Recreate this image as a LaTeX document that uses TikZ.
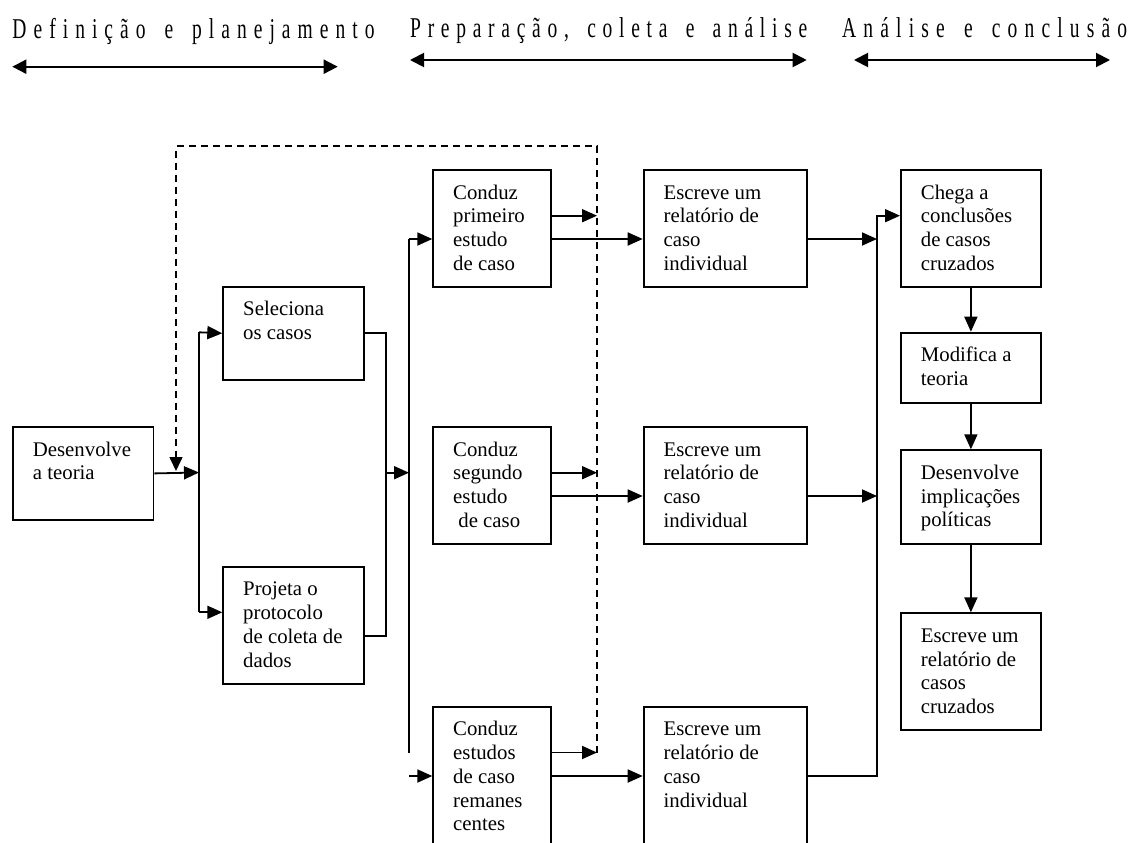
\documentclass[tikz,border=0pt]{standalone}
\usepackage{fontspec}
\setmainfont{Liberation Serif}
\newfontfamily\hdfont[FakeStretch=0.68]{Liberation Serif}
\usetikzlibrary{arrows.meta}
\newcommand\bxt[3]{\begin{minipage}[c][#2][t]{#1}\fontsize{20.8}{23.7}\selectfont\leftskip=20pt\relax\rule{0pt}{29.3pt}#3\end{minipage}}
\newcommand\hdtxt[2]{\hdfont\fontsize{28.7}{30}\selectfont\hbox to #1{#2}}
\begin{document}
\begin{tikzpicture}[x=1pt,y=-1pt,
  bx/.style={draw,line width=1.8pt,inner sep=0pt,anchor=north west},
  ln/.style={line width=1.8pt,line join=miter},
  arr/.style={ln,-{Triangle[length=15pt,width=13pt]}},
  dsh/.style={line width=1.6pt,dash pattern=on 7pt off 5pt,-{Triangle[length=14pt,width=13pt]}},
  harr/.style={line width=2pt,{Triangle[length=14pt,width=14pt]}-{Triangle[length=14pt,width=14pt]}},
  hdr/.style={anchor=base west,inner sep=0pt}]
\useasboundingbox (0,0) rectangle (1138,843);
\clip (0,0) rectangle (1138,843);
% headers
\node[hdr] (h1) at (12.3,39) {\hdtxt{362pt}{D\hfill e\hfill f\hfill i\hfill n\hfill i\hfill ç\hfill ã\hfill o\hfill\ \hfill e\hfill\ \hfill p\hfill l\hfill a\hfill n\hfill e\hfill j\hfill a\hfill m\hfill e\hfill n\hfill t\hfill o}};
\node[hdr] (h2) at (410,38) {\hdtxt{397pt}{P\hfill r\hfill e\hfill p\hfill a\hfill r\hfill a\hfill ç\hfill ã\hfill o\hfill ,\hfill\ \hfill c\hfill o\hfill l\hfill e\hfill t\hfill a\hfill\ \hfill e\hfill\ \hfill a\hfill n\hfill á\hfill l\hfill i\hfill s\hfill e}};
\node[hdr] (h3) at (842,38) {\hdtxt{285pt}{A\hfill n\hfill á\hfill l\hfill i\hfill s\hfill e\hfill\ \hfill e\hfill\ \hfill c\hfill o\hfill n\hfill c\hfill l\hfill u\hfill s\hfill ã\hfill o}};
\coordinate (a1l) at (12.3,66.7); \coordinate (a1r) at (337.7,66.7);
\coordinate (a2l) at (410,60); \coordinate (a2r) at (806.7,60);
\coordinate (a3l) at (854,60); \coordinate (a3r) at (1110,60);
\draw[harr] (a1l) -- (a1r);
\draw[harr] (a2l) -- (a2r);
\draw[harr] (a3l) -- (a3r);
% boxes
\node[bx] (dt) at (12,426) {\bxt{140.5pt}{93pt}{Desenvolve\par a teoria}};
\node[bx] (sel) at (222.3,285.7) {\bxt{140.4pt}{93.3pt}{Seleciona\par os casos}};
\node[bx] (proj) at (222.3,565.7) {\bxt{140.4pt}{117pt}{Projeta o\par protocolo\par de coleta de\par dados}};
\node[bx] (c1) at (432.3,169) {\bxt{117.7pt}{116.7pt}{Conduz\par primeiro\par estudo\par de caso}};
\node[bx] (c2) at (432.3,426) {\bxt{117.7pt}{116.7pt}{Conduz\par segundo\par estudo\par\hspace*{5.2pt}de caso}};
\node[bx] (c3) at (432.3,705.7) {\bxt{117.7pt}{150pt}{Conduz\par estudos\par de caso\par remanes\par centes}};
\node[bx] (e1) at (642.7,169) {\bxt{163.5pt}{116.7pt}{Escreve um\par relatório de\par caso\par individual}};
\node[bx] (e2) at (642.7,426) {\bxt{163.5pt}{116.7pt}{Escreve um\par relatório de\par caso\par individual}};
\node[bx] (e3) at (642.7,705.7) {\bxt{163.5pt}{150pt}{Escreve um\par relatório de\par caso\par individual}};
\node[bx] (ch) at (900,169) {\bxt{140pt}{116.7pt}{Chega a\par conclusões\par de casos\par cruzados}};
\node[bx] (mod) at (900,331.7) {\bxt{140pt}{70pt}{Modifica a\par teoria}};
\node[bx] (di) at (900,449.3) {\bxt{140pt}{93.4pt}{Desenvolve\par implicações\par políticas}};
\node[bx] (ec) at (900,612.3) {\bxt{140pt}{117pt}{Escreve um\par relatório de\par casos\par cruzados}};
% junction coordinates
\coordinate (j1) at (199,472.5);
\coordinate (j1a) at (199,332.3);
\coordinate (j1b) at (199,612.3);
\coordinate (j2b) at (386,636);
\coordinate (j2m) at (386,472.7);
\coordinate (j3m) at (409,472.7);
\coordinate (j3t) at (409,239);
\coordinate (j3b) at (409,752.5);
\coordinate (j3s) at (409,776);
\coordinate (d1) at (597,215.7);
\coordinate (d2) at (597,472.7);
\coordinate (d3) at (597,752.5);
\coordinate (dr) at (597,146);
\coordinate (dl) at (176,146);
\coordinate (dend) at (176,471);
\coordinate (k1) at (877,239);
\coordinate (k2) at (877,496);
\coordinate (k3) at (877,776);
\coordinate (kt) at (877,215.7);
% connectors
\draw[arr] (dt.east) -- (j1);
\draw[ln] (j1a) -- (j1b);
\draw[arr] (j1a) -- (sel.west);
\draw[arr] (j1b) -- (j1b -| proj.west);
\draw[ln] (sel.east) -| (j2b) -- (j2b -| proj.east);
\draw[arr] (j2m) -- (j3m);
\draw[ln] (j3t) -- (j3b);
\draw[arr] (j3t) -- (j3t -| c1.west);
\draw[arr] (j3s) -- (j3s -| c3.west);
\draw[arr] (d1 -| c1.east) -- (d1);
\draw[arr] (d2 -| c2.east) -- (d2);
\draw[arr] (d3 -| c3.east) -- (d3);
\draw[arr] (j3t -| c1.east) -- (j3t -| e1.west);
\draw[arr] (k2 -| c2.east) -- (k2 -| e2.west);
\draw[arr] (j3s -| c3.east) -- (j3s -| e3.west);
\draw[arr] (k1 -| e1.east) -- (k1);
\draw[arr] (k2 -| e2.east) -- (k2);
\draw[arr] (k3 -| e3.east) -- (k3) -- (kt) -- (kt -| ch.west);
\draw[arr] (ch.south) -- (mod.north);
\draw[arr] (mod.south) -- (di.north);
\draw[arr] (di.south) -- (ec.north);
\draw[dsh] (d3) -- (dr) -- (dl) -- (dend);
\end{tikzpicture}
\end{document}
